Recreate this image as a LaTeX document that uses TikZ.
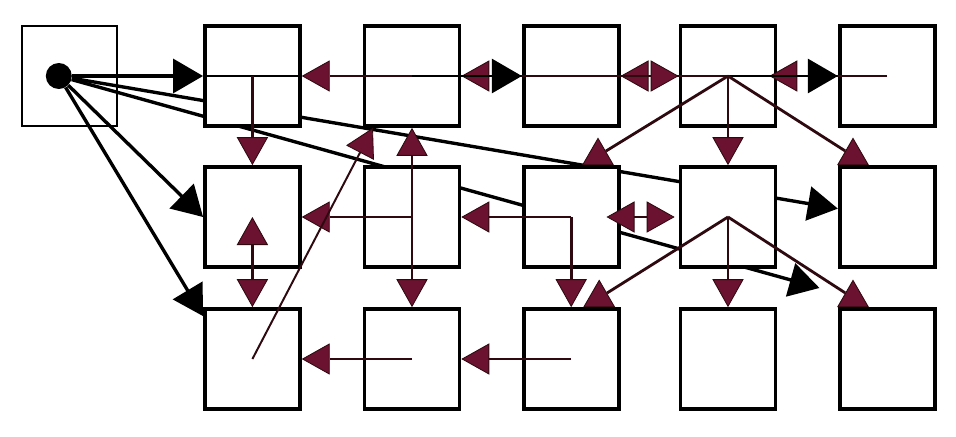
\documentclass[tikz,border=0pt]{standalone}
\usetikzlibrary{arrows.meta,positioning,shapes.geometric,backgrounds}
\definecolor{wine}{HTML}{6B1230}
\definecolor{winedark}{HTML}{2E0A10}
\tikzset{
  wtip/.tip={Triangle[length=0.7cm,width=0.78cm,fill=wine,line width=0.6pt]},
  btip/.tip={Triangle[length=0.75cm,width=0.85cm]},
  cell/.style={draw,line width=2.6pt,fill=white,minimum width=2.375cm,minimum height=2.5cm,inner sep=0pt},
  blk/.style={line width=2.4pt,-{btip}},
  wire/.style={draw=winedark,line width=2pt},
  towine/.style={wire,-{wtip}},
  bothwine/.style={wire,{wtip}-{wtip}},
  uptip/.style={regular polygon,regular polygon sides=3,draw=winedark,line width=0.6pt,fill=wine,inner sep=0pt,minimum size=0.88cm,anchor=south}
}
\begin{document}
\begin{tikzpicture}
\useasboundingbox (0,0) rectangle (23.9,10.9);
% start box with its dot
\node[draw,line width=1.4pt,minimum width=2.375cm,minimum height=2.5cm] (src) at (1.74,9.0) {};
\node[circle,fill,minimum size=0.65cm,inner sep=0pt] (dot) at (1.47,9.0) {};
% grid of cells
\foreach \c/\x in {1/6.31,2/10.3,3/14.28,4/18.2,5/22.18}
  \foreach \r/\y in {1/9.0,2/5.475,3/1.925}
    \node[cell] (c\c\r) at (\x,\y) {};
\coordinate (endB) at ([shift={(-0.46,0.48)}]c53.north west);
% long runs go behind the cells
\begin{scope}[on background layer]
  \draw[blk] (dot) -- (c52);
  \draw[blk] (dot) -- (endB);
\end{scope}
\draw[blk] (dot) -- (c11.west);
\draw[blk] (dot) -- (c12.west);
\draw[blk] (dot) -- (c13.139);
% top row
\draw[wire,draw=black] (c11.west) -- (c11.east);
\draw[towine] (c21.center) -- (c11.east);
\draw[towine] (c31.center) -- (c21.east);
\draw[blk,line width=2pt] (c21.center) -- (c31.west);
\draw[towine] (c41.center) -- (c31.east);
\draw[towine] (c31.center) -- (c41.west);
\draw[towine] (c51.center) -- ([xshift=-0.2cm]c41.east);
\draw[blk,line width=2pt] (c41.center) -- (c51.west);
% first and second column
\draw[towine] (c11.center) -- (c12.north);
\draw[bothwine] (c12.center) -- (c13.north);
\draw[towine] (c22.center) -- (c21.south);
\draw[towine] (c22.center) -- (c23.north);
\draw[towine] (c22.center) -- (c12.east);
\draw[towine,line width=1.4pt] (c13.center) -- (c21.233);
\draw[towine] (c23.center) -- (c13.east);
% third column
\draw[towine] (c32.center) -- (c22.east);
\draw[towine] (c32.center) -- (c33.north);
\draw[bothwine] ([xshift=-0.35cm]c32.east) -- ([xshift=-0.1cm]c42.west);
\draw[towine] (c33.center) -- (c23.east);
% fourth column fans out
\node[uptip] (t32) at ([xshift=0.67cm]c32.north) {};
\node[uptip] (t52) at ([xshift=-0.855cm]c52.north) {};
\node[uptip] (t33) at ([xshift=0.7cm]c33.north) {};
\node[uptip] (t53) at ([xshift=-0.855cm]c53.north) {};
\draw[towine] (c41.center) -- (c42.north);
\draw[wire] (c41.center) -- (t32);
\draw[wire] (c41.center) -- (t52);
\draw[towine] (c42.center) -- (c43.north);
\draw[wire] (c42.center) -- (t33);
\draw[wire] (c42.center) -- (t53);
\end{tikzpicture}
\end{document}
